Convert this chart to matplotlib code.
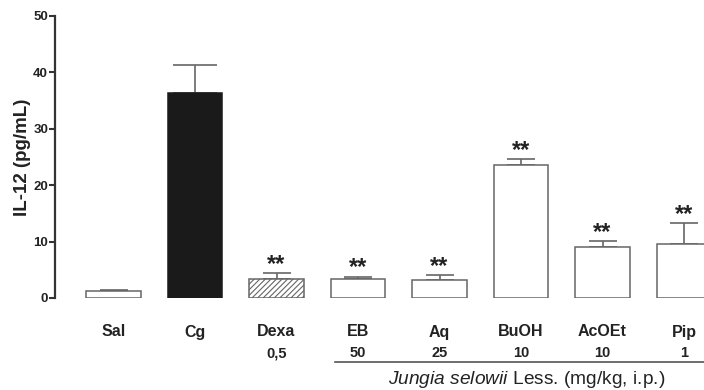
import matplotlib
matplotlib.use("Agg")
import matplotlib.pyplot as plt
from matplotlib.transforms import blended_transform_factory

plt.rcParams['font.family'] = ['Liberation Sans', 'DejaVu Sans']
plt.rcParams['mathtext.fontset'] = 'custom'
plt.rcParams['mathtext.rm'] = 'Liberation Sans'
plt.rcParams['mathtext.it'] = 'Liberation Sans:italic'
plt.rcParams['hatch.color'] = '#555555'
plt.rcParams['hatch.linewidth'] = 0.8

# IL-12 levels per group (mean and upper SEM)
groups = ['Sal', 'Cg', 'Dexa', 'EB', 'Aq', 'BuOH', 'AcOEt', 'Pip']
doses = ['', '', '0,5', '50', '25', '10', '10', '1']
il12 = [1.25, 36.4, 3.4, 3.45, 3.2, 23.6, 9.05, 9.65]
sem = [0.12, 4.9, 0.95, 0.35, 0.8, 1.05, 1.1, 3.65]
signif = ['', '', '**', '**', '**', '**', '**', '**']

fills = ['white', '#1a1a1a', 'white', 'white', 'white', 'white', 'white', 'white']
hatches = ['', '', '//////', '', '', '', '', '']

fig = plt.figure(figsize=(7.04, 3.90), dpi=100)
ax = fig.add_axes([55 / 704, 1 - 298 / 390, 1 - 55 / 704, 282 / 390])

x = list(range(len(groups)))
edge = '#666666'
for i in x:
    ax.bar(i, il12[i], width=0.67, color=fills[i], edgecolor=edge if fills[i] == 'white' else '#1a1a1a',
           linewidth=1.1, hatch=hatches[i], zorder=2, clip_on=True)
    ax.errorbar(i, il12[i], yerr=[[0], [sem[i]]], fmt='none', ecolor=edge,
                elinewidth=1.2, capthick=1.2, capsize=15.5 if i == 1 else 10, zorder=1)
    if signif[i]:
        ax.annotate(signif[i], (i, il12[i] + sem[i]), xytext=(0, -2), textcoords='offset points',
                    ha='center', va='bottom', fontsize=17, fontweight='bold', color='#222222')

ax.set_xlim(-0.718, 7.245)
ax.set_ylim(0, 50)
ax.set_yticks([0, 10, 20, 30, 40, 50])
ax.tick_params(axis='y', length=4, width=1.5, color='#333333', labelsize=9.5, pad=1, labelcolor='#222222')
for lbl in ax.get_yticklabels():
    lbl.set_fontweight('bold')
ax.set_xticks([])
for s in ['top', 'right', 'bottom']:
    ax.spines[s].set_visible(False)
ax.spines['left'].set_color('#333333')
ax.spines['left'].set_linewidth(1.6)

ax.set_ylabel('IL-12 (pg/mL)', fontsize=13.5, fontweight='bold', color='#222222')
ax.yaxis.set_label_coords((31 - 55) / 649, 0.5)

# group names and doses below the bars
trans = blended_transform_factory(ax.transData, fig.transFigure)
for i in x:
    fig.text(i, 1 - 332 / 390, groups[i], transform=trans, ha='center', va='center',
             fontsize=11.5, fontweight='bold', color='#222222')
    if doses[i]:
        fig.text(i, 1 - 353 / 390, doses[i], transform=trans, ha='center', va='center',
                 fontsize=10.5, fontweight='bold', color='#222222')

fig.add_artist(plt.Line2D([335 / 704, 1.0], [1 - 362 / 390] * 2, color='#555555', linewidth=1.2,
                          transform=fig.transFigure))
fig.text(527 / 704, 1 - 380 / 390, r'$\it{Jungia\ selowii}$ Less. (mg/kg, i.p.)', ha='center', va='center',
         fontsize=13.8, color='#222222')

fig.savefig('out.png', dpi=100)
